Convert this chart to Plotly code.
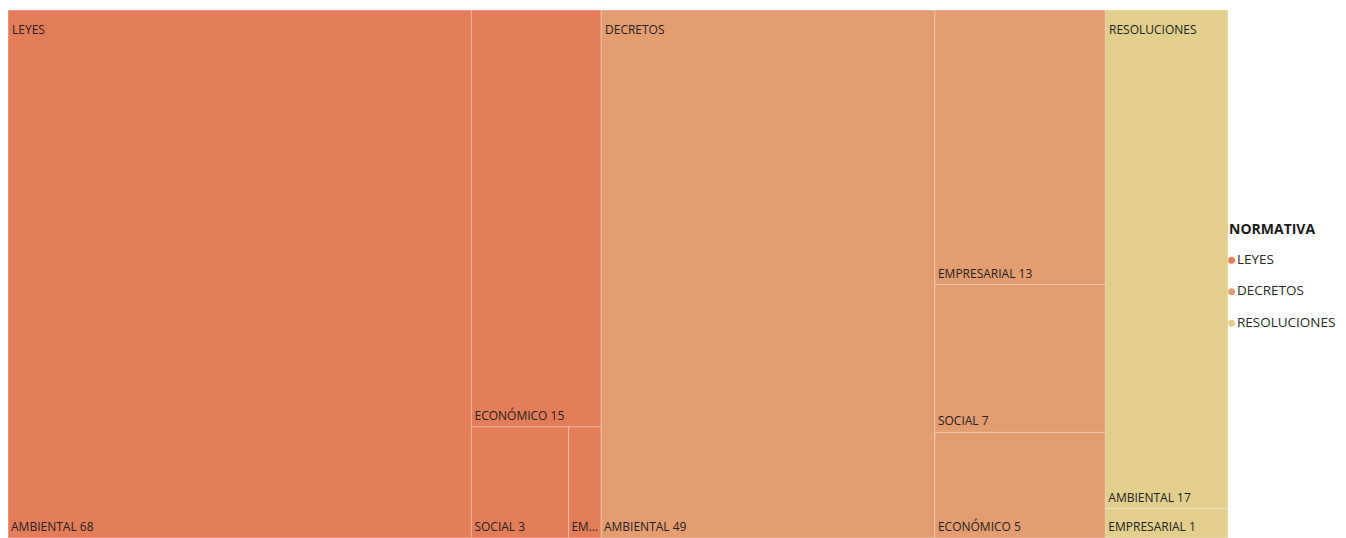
import plotly.graph_objects as go

# ---------------- Data ----------------
normativas = ["LEYES", "DECRETOS", "RESOLUCIONES"]
colores = ["#E57D5B", "#E49D70", "#E2CF8D"]

leyes_cat = ["AMBIENTAL", "ECONÓMICO", "SOCIAL", "EMPRESARIAL"]
leyes_val = [68, 15, 3, 1]
leyes_txt = ["AMBIENTAL 68", "ECONÓMICO 15", "SOCIAL 3", "EM..."]

decretos_cat = ["AMBIENTAL", "EMPRESARIAL", "SOCIAL", "ECONÓMICO"]
decretos_val = [49, 13, 7, 5]
decretos_txt = ["AMBIENTAL 49", "EMPRESARIAL 13", "SOCIAL 7", "ECONÓMICO 5"]

resol_cat = ["AMBIENTAL", "EMPRESARIAL"]
resol_val = [17, 1]
resol_txt = ["AMBIENTAL 17", "EMPRESARIAL 1"]

# ---------------- Build hierarchy ----------------
# slice-dice tiling alternates column/row splits with depth; grouping nodes
# reproduce the Power BI arrangement of the tiles.
ids, labels, parents, values, colors, texts, lwidths = [], [], [], [], [], [], []


def add(node_id, label, parent, value, color, text, leaf):
    ids.append(node_id); labels.append(label); parents.append(parent)
    values.append(value); colors.append(color); texts.append(text)
    lwidths.append(1 if leaf else 0)


# LEYES: AMBIENTAL | (ECONÓMICO / (SOCIAL | EMPRESARIAL))
n, c = normativas[0], colores[0]
add(n, n, "", sum(leyes_val), c, "", False)
add(n + "/g1", n, n, sum(leyes_val), c, "", False)
add(n + "/" + leyes_cat[0], leyes_cat[0], n + "/g1", leyes_val[0], c, leyes_txt[0], True)
add(n + "/g2", n, n + "/g1", sum(leyes_val[1:]), c, "", False)
add(n + "/" + leyes_cat[1], leyes_cat[1], n + "/g2", leyes_val[1], c, leyes_txt[1], True)
add(n + "/g3", n, n + "/g2", sum(leyes_val[2:]), c, "", False)
for cat, v, t in zip(leyes_cat[2:], leyes_val[2:], leyes_txt[2:]):
    add(n + "/" + cat, cat, n + "/g3", v, c, t, True)

# DECRETOS: AMBIENTAL | (EMPRESARIAL / SOCIAL / ECONÓMICO)
n, c = normativas[1], colores[1]
add(n, n, "", sum(decretos_val), c, "", False)
add(n + "/g1", n, n, sum(decretos_val), c, "", False)
add(n + "/" + decretos_cat[0], decretos_cat[0], n + "/g1", decretos_val[0], c, decretos_txt[0], True)
add(n + "/g2", n, n + "/g1", sum(decretos_val[1:]), c, "", False)
for cat, v, t in zip(decretos_cat[1:], decretos_val[1:], decretos_txt[1:]):
    add(n + "/" + cat, cat, n + "/g2", v, c, t, True)

# RESOLUCIONES: AMBIENTAL / EMPRESARIAL
n, c = normativas[2], colores[2]
add(n, n, "", sum(resol_val), c, "", False)
for cat, v, t in zip(resol_cat, resol_val, resol_txt):
    add(n + "/" + cat, cat, n, v, c, t, True)

totals = [sum(leyes_val), sum(decretos_val), sum(resol_val)]
grand_total = sum(totals)
starts = [sum(totals[:i]) for i in range(len(totals))]

TM_RIGHT = 0.9118
FONT = "Open Sans"
TXT_COLOR = "#222222"

fig = go.Figure()
fig.add_trace(go.Treemap(
    ids=ids, labels=labels, parents=parents, values=values,
    branchvalues="total", sort=True,
    text=texts, texttemplate="%{text}",
    textposition="bottom left",
    textfont=dict(family=FONT, size=12, color=TXT_COLOR),
    marker=dict(colors=colors, line=dict(color="rgba(255,255,255,0.35)", width=lwidths),
                pad=dict(t=0, l=0, r=0, b=0)),
    tiling=dict(packing="slice-dice", pad=0),
    pathbar=dict(visible=False),
    domain=dict(x=[0, TM_RIGHT], y=[0, 1]),
    hovertemplate="%{label}: %{value}<extra></extra>",
))

# invisible anchor trace: a value axis spanning the treemap width
fig.add_trace(go.Scatter(x=starts, y=[1] * len(starts), mode="markers",
                         marker=dict(opacity=0), hoverinfo="skip",
                         xaxis="x", yaxis="y", showlegend=False))

# group (parent) labels, placed at the start of each group on the value axis
for name, s in zip(normativas, starts):
    fig.add_annotation(x=s, y=1, xref="x", yref="y", text=name, showarrow=False,
                       xanchor="left", yanchor="top", xshift=2, yshift=-9,
                       font=dict(family=FONT, size=12, color=TXT_COLOR))

# legend
fig.add_trace(go.Scatter(
    x=[0] * len(normativas), y=[-i for i in range(len(normativas))],
    mode="markers+text", text=normativas, textposition="middle right",
    marker=dict(color=colores, size=7),
    textfont=dict(family=FONT, size=13.5, color="#2a2a2a"),
    hoverinfo="skip", xaxis="x2", yaxis="y2", showlegend=False))
fig.add_annotation(x=0, y=1, xref="x2", yref="y2", text="<b>NORMATIVA</b>",
                   showarrow=False, xanchor="left", xshift=-5,
                   font=dict(family=FONT, size=14, color="#1a1a1a"))

fig.update_layout(
    width=1338, height=530,
    margin=dict(l=0, r=0, t=2, b=0),
    paper_bgcolor="white", plot_bgcolor="rgba(0,0,0,0)",
    showlegend=False,
    xaxis=dict(domain=[0, TM_RIGHT], range=[0, grand_total], visible=False, fixedrange=True),
    yaxis=dict(domain=[0, 1], range=[0, 1], visible=False, fixedrange=True),
    xaxis2=dict(domain=[TM_RIGHT, 1], range=[-0.03, 0.97], visible=False, anchor="y2", fixedrange=True),
    yaxis2=dict(domain=[0, 1], range=[-8.82, 7.94], visible=False, anchor="x2", fixedrange=True),
)
fig.write_html("out.html")
